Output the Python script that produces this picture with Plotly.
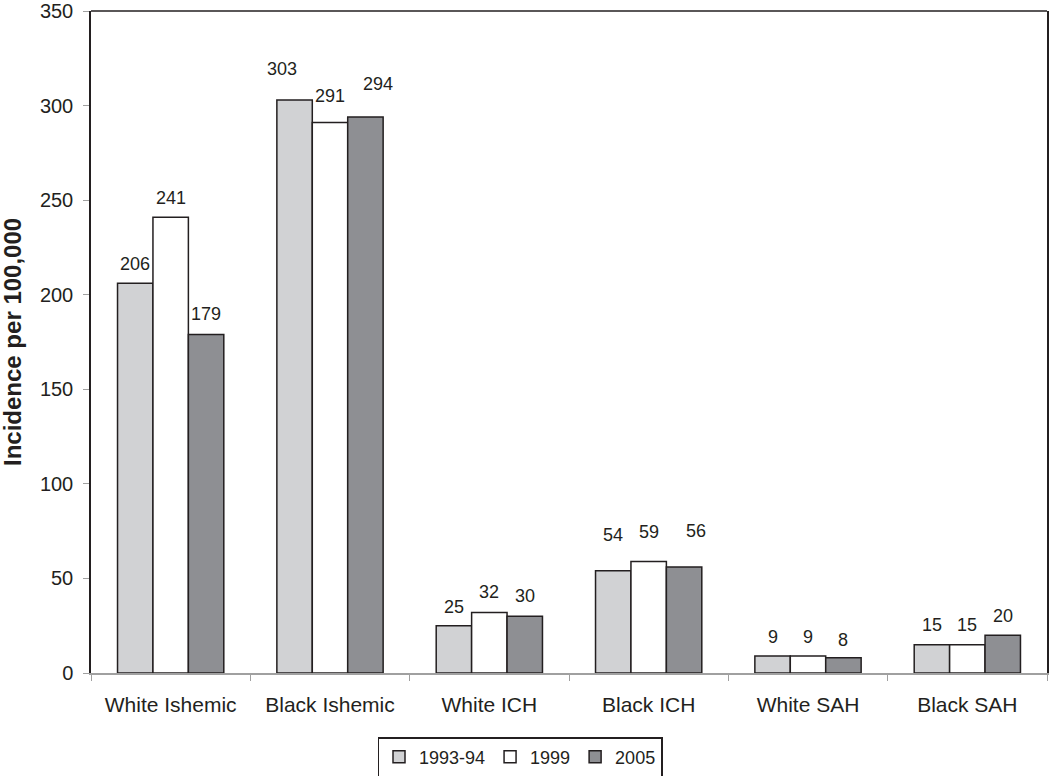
import plotly.graph_objects as go

categories = ["White Ishemic", "Black Ishemic", "White ICH", "Black ICH", "White SAH", "Black SAH"]
series_names = ["1993-94", "1999", "2005"]
v_1993 = [206, 303, 25, 54, 9, 15]
v_1999 = [241, 291, 32, 59, 9, 15]
v_2005 = [179, 294, 30, 56, 8, 20]

# --- style ---
colors = ["#d1d2d4", "#ffffff", "#8e8f93"]
EDGE = "#231f20"
FONT = "Liberation Sans, Arial, sans-serif"
W, H = 1050, 776
ML, MR, MT, MB = 91, 3, 11, 103
BARGAP = 0.333
# label offsets (px) relative to default position centred above each bar
label_dy = [[19, 31, 19, 36, 19, 20],
            [19, 27, 20, 29, 19, 20],
            [20, 33, 20, 36, 18, 19]]
label_dx = [[0, -13, 0, 0, 0, 0],
            [0, 0, 0, 0, 0, 0],
            [0, 13, 0, 12, 0, 0]]

plot_w = W - ML - MR
bar_px = plot_w / len(categories) * (1 - BARGAP) / 3

fig = go.Figure()
annotations = []
for i, (name, vals, col) in enumerate(zip(series_names, [v_1993, v_1999, v_2005], colors)):
    fig.add_trace(go.Bar(
        x=categories, y=vals, name=name,
        marker=dict(color=col, line=dict(color=EDGE, width=1.5)),
    ))
    for j, (c, v) in enumerate(zip(categories, vals)):
        annotations.append(dict(
            x=c, y=v, xref="x", yref="y", text=str(v), showarrow=False,
            xanchor="center", yanchor="middle",
            xshift=(i - 1) * bar_px + label_dx[i][j], yshift=label_dy[i][j],
            font=dict(size=18, color=EDGE, family=FONT),
        ))

annotations.append(dict(
    x=-(ML - 12) / plot_w, y=0.5, xref="paper", yref="paper",
    text="<b>Incidence per 100,000</b>", textangle=-90, showarrow=False,
    xanchor="center", yanchor="middle",
    font=dict(size=24, color=EDGE, family=FONT),
))

fig.update_layout(
    width=W, height=H,
    margin=dict(l=ML, r=MR, t=MT, b=MB, autoexpand=False),
    paper_bgcolor="white", plot_bgcolor="white",
    barmode="group", bargap=BARGAP, bargroupgap=0,
    font=dict(family=FONT, size=20, color=EDGE),
    showlegend=True,
    legend=dict(orientation="h", x=(520 - ML) / plot_w, xanchor="center",
                y=-(737 - (H - MB)) / (H - MT - MB), yanchor="top",
                bordercolor=EDGE, borderwidth=1.5, font=dict(size=18),
                itemwidth=30, traceorder="normal"),
    xaxis=dict(showline=True, linecolor="#a0a0a0", linewidth=1.5,
               ticks="outside", tickson="boundaries", ticklen=6, tickcolor="#a0a0a0",
               tickfont=dict(size=21), showgrid=False, automargin=False,
               ticklabelstandoff=12),
    yaxis=dict(range=[0, 350], dtick=50, showline=True, mirror=True,
               linecolor=EDGE, linewidth=1.5, ticks="outside", ticklen=6,
               tickcolor="#a0a0a0", showgrid=False, zeroline=False,
               tickfont=dict(size=20), automargin=False, ticklabelstandoff=6,
               ticklabeloverflow="allow"),
    annotations=annotations,
    shapes=[dict(type="line", xref="paper", yref="paper", x0=0, x1=1, y0=1, y1=1,
                 line=dict(color=EDGE, width=1.5))],
)

fig.write_html("out.html", config={"displayModeBar": False},
               post_script="document.body.style.margin='0px';")
